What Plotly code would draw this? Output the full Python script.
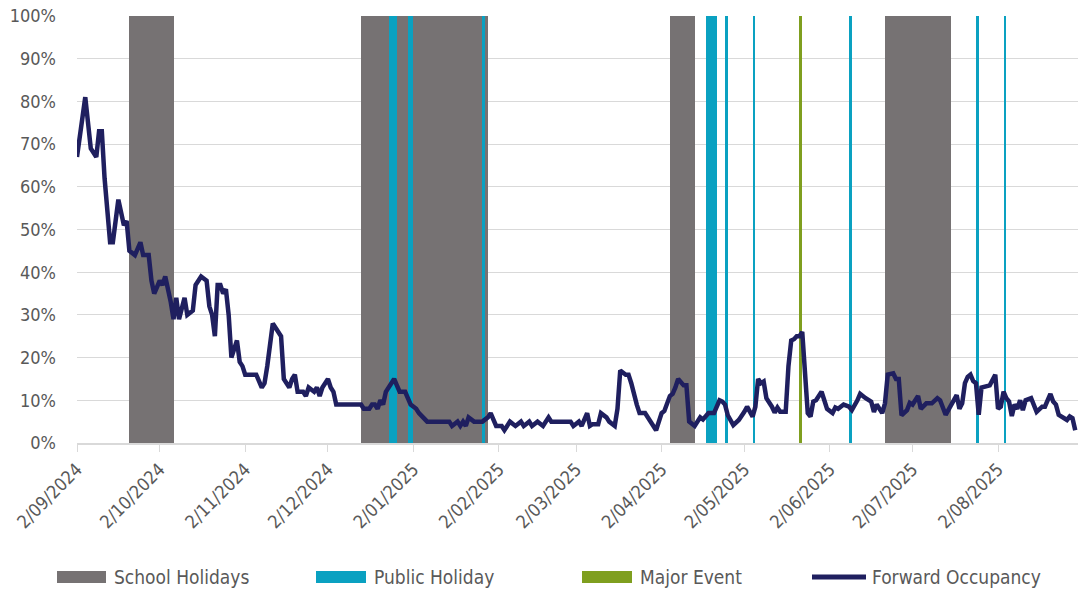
import pandas as pd
import plotly.graph_objects as go

# ---------------- data ----------------
base_date = "2024-09-02"
day_offset = [0, 3, 5, 7, 8, 9, 10, 12, 13, 15, 17, 18, 19, 21, 23, 24, 26, 27, 28, 30,
              31, 32, 34, 35, 36, 37, 39, 40, 42, 43, 45, 47, 48, 49, 50, 51, 52, 53, 54, 55,
              56, 58, 59, 60, 61, 62, 65, 67, 68, 69, 71, 72, 74, 75, 76, 77, 78, 79, 80, 82,
              83, 84, 86, 87, 88, 89, 91, 92, 93, 94, 103, 104, 106, 107, 108, 109, 110, 111, 112, 113,
              115, 116, 117, 119, 120, 121, 123, 124, 127, 135, 136, 138, 139, 140, 141, 142, 144, 147, 149, 150,
              152, 154, 155, 157, 159, 161, 162, 164, 165, 167, 169, 171, 172, 179, 180, 182, 183, 185, 186, 187,
              189, 190, 192, 193, 195, 196, 197, 199, 200, 201, 203, 204, 206, 208, 209, 210, 212, 213, 215, 216,
              217, 218, 220, 221, 222, 224, 226, 227, 229, 231, 233, 234, 235, 236, 238, 240, 242, 243, 245, 246,
              247, 248, 249, 250, 252, 253, 254, 255, 257, 258, 259, 260, 261, 262, 263, 264, 265, 266, 267, 268,
              269, 270, 271, 272, 274, 275, 276, 278, 280, 281, 283, 284, 286, 288, 289, 290, 292, 293, 294, 296,
              297, 298, 299, 301, 302, 303, 305, 306, 308, 310, 312, 313, 315, 316, 318, 319, 320, 321, 322, 323,
              324, 325, 326, 327, 328, 330, 331, 333, 334, 335, 336, 337, 338, 339, 340, 341, 342, 343, 344, 346,
              347, 348, 350, 351, 353, 354, 355, 356, 358, 359, 360, 361, 362]
occupancy_pct = [67, 81, 69, 67, 73, 73, 62, 47, 47, 57, 51, 52, 45, 44, 47, 44, 44, 38, 35, 38,
                 37, 39, 33, 29, 34, 29, 34, 30, 31, 37, 39, 38, 32, 30, 25, 37, 37, 35, 36, 30,
                 20, 24, 19, 18, 16, 16, 16, 13, 14, 18, 28, 27, 25, 15, 14, 13, 15, 16, 12, 12,
                 11, 13, 12, 13, 11, 13, 15, 13, 12, 9, 9, 8, 8, 9, 9, 8, 10, 9, 12, 13,
                 15, 13.5, 12, 12, 10.5, 9, 8, 7, 5, 5, 4, 5, 4, 5, 4, 6, 5, 5, 6, 7,
                 4, 4, 3, 5, 4, 5, 4, 5, 4, 5, 4, 6, 5, 5, 4, 5, 4, 7, 4, 4.4,
                 4.4, 7, 6, 5, 4, 8, 17, 16, 16, 14, 9, 7, 7, 5, 4, 3, 7, 7.5, 11, 11.5,
                 13, 15, 13.5, 13.5, 5, 4, 6, 5.5, 7, 7, 10, 9.7, 9, 6.5, 4.2, 5.4, 7.3, 8.5, 6.2, 8.5,
                 15, 14, 14.4, 10.5, 8.5, 7.1, 8.3, 7.3, 7.3, 18, 24, 24.3, 25, 25, 26, 18, 7, 6.2, 9.7, 10,
                 11, 12, 10, 8, 7, 8.3, 8, 9, 8.5, 7.7, 10, 11.5, 10.5, 9.7, 7.3, 9, 7, 9.3, 16, 16.3,
                 15, 15, 6.5, 7.7, 9.4, 9, 11, 8, 9.3, 9.3, 10.5, 10, 6.6, 7.7, 9.7, 11.2, 8, 9.3, 14, 15.5,
                 16, 14.5, 14, 6.6, 13, 13.3, 13.5, 16, 8, 8.5, 12, 10.5, 9.7, 6.3, 9, 8, 10, 7.7, 10, 10.5,
                 8.5, 7.3, 8.5, 8.5, 11.5, 9.7, 9, 6.6, 5.8, 5.4, 6.2, 5.8, 3]

school_start = ["2024-09-21", "2024-12-14", "2025-04-05", "2025-06-22"]
school_end = ["2024-10-07", "2025-01-29", "2025-04-14", "2025-07-16"]
public_start = ["2024-12-24", "2024-12-31", "2025-01-27", "2025-04-18", "2025-04-25",
                "2025-05-05", "2025-06-09", "2025-07-25", "2025-08-04"]
public_end = ["2024-12-27", "2025-01-02", "2025-01-28", "2025-04-22", "2025-04-26",
              "2025-05-06", "2025-06-10", "2025-07-26", "2025-08-05"]
event_start = ["2025-05-22"]
event_end = ["2025-05-23"]

x_start = "2024-09-02"
x_end = "2025-08-31"
y_ticks = [i / 10 for i in range(11)]

series_names = ["School Holidays", "Public Holiday", "Major Event", "Forward Occupancy"]
colors = ["#767273", "#0aa1c1", "#7f9f1f", "#1f1f5f"]

# ---------------- figure ----------------
FONT = "Ubuntu Condensed, Liberation Sans Narrow, DejaVu Sans Condensed, sans-serif"
TXT = "#595959"


def band_trace(starts, ends, name, color):
    s = pd.to_datetime(starts)
    e = pd.to_datetime(ends)
    mids = s + (e - s) / 2
    widths = [(b - a).total_seconds() * 1000 for a, b in zip(s, e)]
    return go.Bar(x=mids, y=[1] * len(s), width=widths, base=0, name=name,
                  marker=dict(color=color, line=dict(width=0)), showlegend=False)


fig = go.Figure()
fig.add_trace(band_trace(school_start, school_end, series_names[0], colors[0]))
fig.add_trace(band_trace(public_start, public_end, series_names[1], colors[1]))
fig.add_trace(band_trace(event_start, event_end, series_names[2], colors[2]))

dates = pd.to_datetime(base_date) + pd.to_timedelta(day_offset, unit="D")
fig.add_trace(go.Scatter(x=dates, y=[v / 100 for v in occupancy_pct], mode="lines",
                         name=series_names[3], line=dict(color=colors[3], width=4.5),
                         showlegend=False))

W, H = 1078, 591
ML, MR, MT, MB = 77, 0, 16, 148
pw, ph = W - ML - MR, H - MT - MB


def px(xp):
    return (xp - ML) / pw


def py(yp):
    return (H - MB - yp) / ph


# custom legend (swatches + labels)
legend_items = [(57, 106, 112, "bar"), (316, 366, 372, "bar"), (582, 632, 638, "bar"), (812, 866, 870, "line")]
shapes = []
annotations = []
ly = 577
for (x0, x1, tx, kind), name, col in zip(legend_items, series_names, colors):
    if kind == "bar":
        shapes.append(dict(type="rect", xref="paper", yref="paper", x0=px(x0), x1=px(x1),
                           y0=py(ly + 6), y1=py(ly - 6), fillcolor=col, line=dict(width=0)))
    else:
        shapes.append(dict(type="line", xref="paper", yref="paper", x0=px(x0), x1=px(x1),
                           y0=py(ly), y1=py(ly), line=dict(color=col, width=5)))
    annotations.append(dict(xref="paper", yref="paper", x=px(tx), y=py(ly), text=name,
                            showarrow=False, xanchor="left", yanchor="middle",
                            font=dict(family=FONT, size=19, color=TXT)))

fig.update_layout(
    width=W, height=H,
    margin=dict(l=ML, r=MR, t=MT, b=MB),
    paper_bgcolor="white", plot_bgcolor="white",
    barmode="overlay", bargap=0,
    shapes=shapes, annotations=annotations,
    font=dict(family=FONT, size=18, color=TXT),
    xaxis=dict(type="date", range=[x_start, x_end], tick0=x_start, dtick="M1",
               tickformat="%-d/%m/%Y", tickangle=-45, showgrid=False,
               showline=True, linecolor="#d9d9d9", linewidth=1.5,
               ticks="outside", ticklen=7, tickcolor="#d9d9d9",
               tickfont=dict(family=FONT, size=18, color=TXT)),
    yaxis=dict(range=[0, 1], tickvals=y_ticks, tickformat=".0%", showgrid=True,
               gridcolor="#d9d9d9", gridwidth=1, zeroline=False, showline=False,
               ticks="", ticklabelstandoff=20,
               tickfont=dict(family=FONT, size=18, color=TXT)),
)

fig.write_html("out.html", config={"displayModeBar": False},
               post_script="document.body.style.margin='0';document.body.style.overflow='hidden';")
